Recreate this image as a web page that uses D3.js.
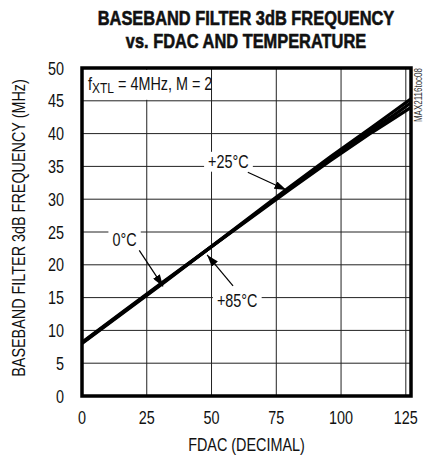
<!DOCTYPE html>
<html>
<head>
<meta charset="utf-8">
<script src="https://cdn.jsdelivr.net/npm/d3@7"></script>
<style>
    body { margin: 0; background: #fff; }
    svg text { font-family: "Liberation Sans", Arial, sans-serif; fill: #111; }
</style>
</head>
<body>
<svg id="chart"></svg>
<script>
// FDAC code (x) and 3dB frequency in MHz (y) per temperature
const fdac = [0, 16, 32, 48, 64, 80, 96, 112, 120, 127];
const freq0C = [8.0, 12.7, 17.4, 22.2, 27.0, 31.8, 36.5, 41.0, 43.3, 45.3];
const freq25C = [8.1, 12.8, 17.5, 22.2, 26.9, 31.6, 36.2, 40.6, 42.7, 44.7];
const freq85C = [8.2, 12.9, 17.6, 22.2, 26.8, 31.4, 35.9, 40.2, 42.2, 44.0];

const xTicks = [0, 25, 50, 75, 100, 125];
const yTicks = [0, 5, 10, 15, 20, 25, 30, 35, 40, 45, 50];

// label text, text anchor (fdac, MHz), arrow tail and arrow tip (fdac, MHz)
const labels = [
    {text: '+25°C', at: [56.5, 34.7], tail: [64.0, 34.1], tip: [78.9, 31.4]},
    {text: '0°C', at: [16.4, 22.9], tail: [22.1, 22.2], tip: [31.3, 16.7]},
    {text: '+85°C', at: [59.9, 13.6], tail: [58.3, 16.8], tip: [48.3, 21.5]}
];

// the original uses a condensed face, so squeeze Liberation Sans sideways
const SQUEEZE = 0.8;

function narrowText(parent, x, y, str, size, anchor, rotate) {
    let g = parent.append('g')
        .attr('transform', `translate(${x},${y}) rotate(${rotate || 0}) scale(${SQUEEZE},1)`);
    let t = g.append('text')
        .attr('text-anchor', anchor || 'start')
        .style('font-size', size + 'px')
        .text(str);
    return {g: g, t: t};
}

class FreqChart {
    constructor(_config) {
        this.config = {
            parentElement: _config.parentElement,
            containerWidth: _config.containerWidth || 425,
            containerHeight: _config.containerHeight || 457,
            margin: _config.margin || {top: 68, right: 14, bottom: 61, left: 82}
        }
        this.initVis();
    }

    initVis() {
        let vis = this;
        vis.width = vis.config.containerWidth - vis.config.margin.left - vis.config.margin.right;
        vis.height = vis.config.containerHeight - vis.config.margin.top - vis.config.margin.bottom;

        vis.svg = d3.select(vis.config.parentElement)
            .attr('width', vis.config.containerWidth)
            .attr('height', vis.config.containerHeight);

        vis.chart = vis.svg.append('g')
            .attr('transform', `translate(${vis.config.margin.left},${vis.config.margin.top})`);

        vis.xScale = d3.scaleLinear().domain([0, 127]).range([0, vis.width]);
        vis.yScale = d3.scaleLinear().domain([0, 50]).range([vis.height, 0]);

        vis.renderVis();
    }

    renderVis() {
        let vis = this;

        // title
        ['BASEBAND FILTER 3dB FREQUENCY', 'vs. FDAC AND TEMPERATURE'].forEach((s, i) => {
            let tt = narrowText(vis.svg, 246, 25 + i * 23, s, 20.5, 'middle');
            tt.t.style('font-weight', 'bold')
                .style('stroke', '#111').style('stroke-width', 0.6);
        });

        // gridlines
        vis.chart.selectAll('.vgrid')
            .data(xTicks)
            .join('line')
            .attr('class', 'vgrid')
            .attr('x1', d => vis.xScale(d)).attr('x2', d => vis.xScale(d))
            .attr('y1', 0).attr('y2', vis.height)
            .attr('stroke', '#222').attr('stroke-width', 1);

        vis.chart.selectAll('.hgrid')
            .data(yTicks)
            .join('line')
            .attr('class', 'hgrid')
            .attr('x1', 0).attr('x2', vis.width)
            .attr('y1', d => vis.yScale(d)).attr('y2', d => vis.yScale(d))
            .attr('stroke', '#222').attr('stroke-width', 1);

        // tick labels
        xTicks.forEach(d => narrowText(vis.chart, vis.xScale(d), vis.height + 28, d, 18, 'middle'));
        yTicks.forEach(d => narrowText(vis.chart, -18, vis.yScale(d) + 6.5, d, 18, 'end'));

        // axis titles
        narrowText(vis.chart, vis.xScale(63.5), vis.height + 55, 'FDAC (DECIMAL)', 18, 'middle');
        narrowText(vis.chart, -57, vis.yScale(25) - 4, 'BASEBAND FILTER 3dB FREQUENCY (MHz)', 18, 'middle', -90);

        // condition label, white box breaks the grid behind it
        vis.chart.append('rect')
            .attr('x', 3).attr('y', 2)
            .attr('width', 126).attr('height', vis.yScale(45) - 3)
            .attr('fill', '#fff');
        let cond = narrowText(vis.chart, 6, 22, '', 18, 'start').t;
        cond.append('tspan').text('f');
        cond.append('tspan').attr('dy', 3).style('font-size', '15px').text('XTL');
        cond.append('tspan').attr('dy', -3).text(' = 4MHz, M = 2');

        // curves
        let line = d3.line()
            .x((d, i) => vis.xScale(fdac[i]))
            .y(d => vis.yScale(d));

        vis.chart.selectAll('.curve')
            .data([freq0C, freq25C, freq85C])
            .join('path')
            .attr('class', 'curve')
            .attr('d', line)
            .attr('fill', 'none')
            .attr('stroke', '#000')
            .attr('stroke-width', 3.2);

        // arrow marker
        vis.svg.append('defs').append('marker')
            .attr('id', 'arrow')
            .attr('viewBox', '0 0 12 8')
            .attr('refX', 12).attr('refY', 4)
            .attr('markerWidth', 12).attr('markerHeight', 8)
            .attr('markerUnits', 'userSpaceOnUse')
            .attr('orient', 'auto')
            .append('path')
            .attr('d', 'M0,0 L12,4 L0,8 Z')
            .attr('fill', '#000');

        // temperature labels with arrows
        labels.forEach(l => {
            let lab = narrowText(vis.chart, vis.xScale(l.at[0]), vis.yScale(l.at[1]), l.text, 18, 'middle');
            let bb = lab.t.node().getBBox();
            lab.g.insert('rect', 'text')
                .attr('x', bb.x - 5).attr('y', bb.y)
                .attr('width', bb.width + 10).attr('height', bb.height)
                .attr('fill', '#fff');

            vis.chart.append('line')
                .attr('x1', vis.xScale(l.tail[0])).attr('y1', vis.yScale(l.tail[1]))
                .attr('x2', vis.xScale(l.tip[0])).attr('y2', vis.yScale(l.tip[1]))
                .attr('stroke', '#000').attr('stroke-width', 1.2)
                .attr('marker-end', 'url(#arrow)');
        });

        // frame
        vis.chart.append('rect')
            .attr('x', 0).attr('y', 0)
            .attr('width', vis.width).attr('height', vis.height)
            .attr('fill', 'none')
            .attr('stroke', '#000')
            .attr('stroke-width', 3.5);

        // part number tag
        narrowText(vis.svg, 422, 68, 'MAX2116toc08', 10, 'end', -90).t.style('fill', '#333');
    }
}

new FreqChart({parentElement: '#chart'});
</script>
</body>
</html>
